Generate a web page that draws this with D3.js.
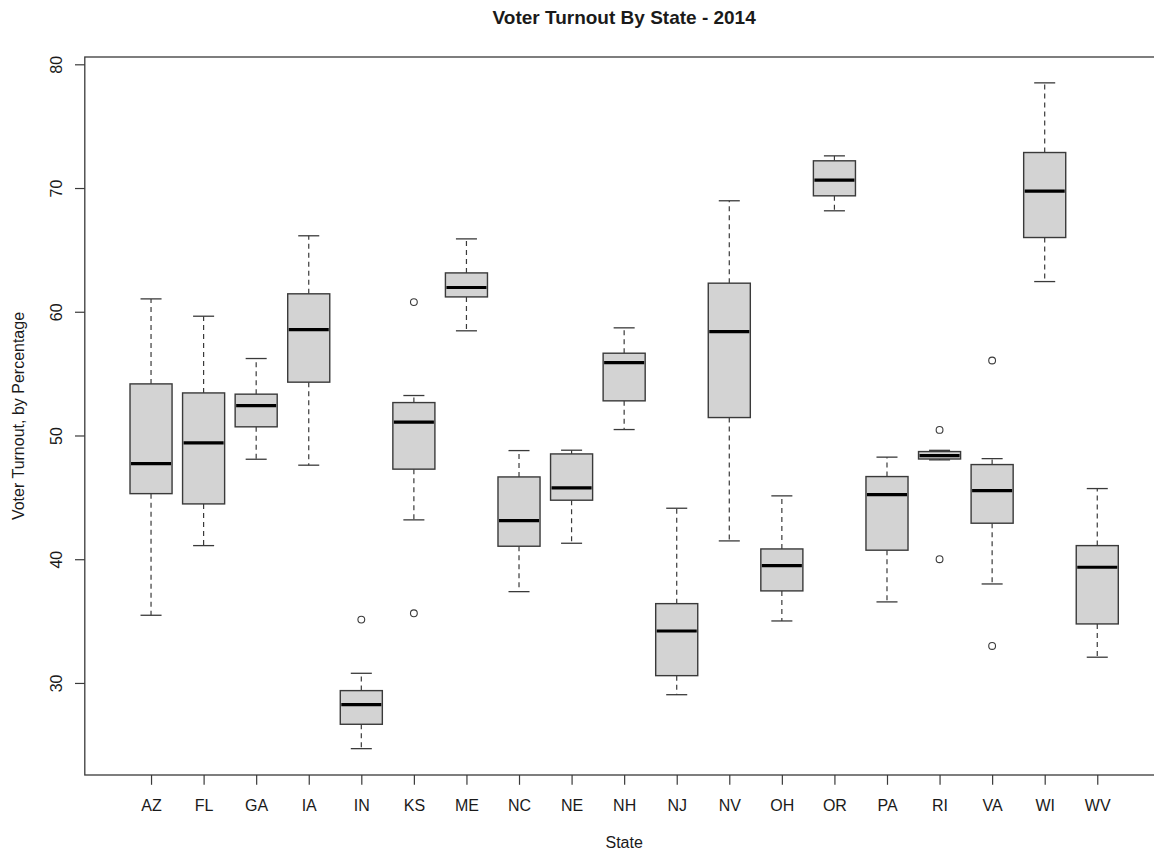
<!DOCTYPE html>
<html>
<head>
<meta charset="utf-8">
<script src="https://cdn.jsdelivr.net/npm/d3@7"></script>
<style>
  body { margin: 0; background: #fff; }
  svg text { font-family: "Liberation Sans", Arial, Helvetica, sans-serif; fill: #1a1a1a; }
</style>
</head>
<body>
<figure id="boxplot" style="margin:0"></figure>
<script>
// five-number summaries per state
const states      = ["AZ", "FL", "GA", "IA", "IN", "KS", "ME", "NC", "NE", "NH", "NJ", "NV", "OH", "OR", "PA", "RI", "VA", "WI", "WV"];
const lowWhisker  = [35.47, 41.10, 48.08, 47.60, 24.69, 43.18, 58.46, 37.38, 41.29, 50.48, 29.05, 41.48, 35.01, 68.16, 36.55, 48.03, 38.00, 62.44, 32.08];
const q1          = [45.30, 44.47, 50.70, 54.31, 26.66, 47.28, 61.20, 41.05, 44.77, 52.80, 30.59, 51.45, 37.44, 69.37, 40.73, 48.10, 42.91, 66.00, 34.77];
const median      = [47.73, 49.40, 52.42, 58.56, 28.25, 51.08, 61.96, 43.12, 45.76, 55.89, 34.20, 58.40, 39.48, 70.64, 45.22, 48.38, 45.55, 69.75, 39.35];
const q3          = [54.17, 53.44, 53.34, 61.45, 29.38, 52.66, 63.14, 46.65, 48.51, 56.65, 36.41, 62.31, 40.83, 72.20, 46.68, 48.70, 47.65, 72.87, 41.10];
const highWhisker = [61.04, 59.64, 56.22, 66.14, 30.78, 53.23, 65.89, 48.78, 48.81, 58.70, 44.12, 68.97, 45.12, 72.60, 48.25, 48.80, 48.13, 78.50, 45.71];
const outliers    = [[], [], [], [], [35.12], [60.78, 35.63], [], [], [], [], [], [], [], [], [], [50.45, 40.00], [56.06, 32.99], [], []];
const yTicks = [30, 40, 50, 60, 70, 80];

const width = 1154, height = 852;
const plot = { left: 84.8, right: 1163.5, top: 57, bottom: 775 };
const n = states.length;

const svg = d3.select("figure#boxplot")
  .append("svg")
  .attr("width", width)
  .attr("height", height);

svg.append("rect").attr("width", width).attr("height", height).attr("fill", "#fff");

// R style: boxes at 1..n, xlim (0.5, n+0.5) padded by 4%
const pad = 0.04 * n;
const x = d3.scaleLinear()
  .domain([0.5 - pad, n + 0.5 + pad])
  .range([plot.left, plot.right]);

const y = d3.scaleLinear()
  .domain([22.56, 80.59])
  .range([plot.bottom, plot.top]);

const step = x(2) - x(1);
const boxW = step * 0.8;
const capW = boxW * 0.5;

const data = states.map((s, i) => ({
  state: s, pos: i + 1,
  lo: lowWhisker[i], q1: q1[i], med: median[i], q3: q3[i], hi: highWhisker[i],
  out: outliers[i]
}));

// whiskers
const g = svg.append("g");
const boxes = g.selectAll("g.box").data(data).join("g").attr("class", "box");

boxes.append("line")
  .attr("x1", d => x(d.pos)).attr("x2", d => x(d.pos))
  .attr("y1", d => y(d.q3)).attr("y2", d => y(d.hi))
  .attr("stroke", "#3a3a3a").attr("stroke-width", 1.2).attr("stroke-dasharray", "5,4");
boxes.append("line")
  .attr("x1", d => x(d.pos)).attr("x2", d => x(d.pos))
  .attr("y1", d => y(d.q1)).attr("y2", d => y(d.lo))
  .attr("stroke", "#3a3a3a").attr("stroke-width", 1.2).attr("stroke-dasharray", "5,4");

// staples
boxes.append("line")
  .attr("x1", d => x(d.pos) - capW / 2).attr("x2", d => x(d.pos) + capW / 2)
  .attr("y1", d => y(d.hi)).attr("y2", d => y(d.hi))
  .attr("stroke", "#3a3a3a").attr("stroke-width", 1.3);
boxes.append("line")
  .attr("x1", d => x(d.pos) - capW / 2).attr("x2", d => x(d.pos) + capW / 2)
  .attr("y1", d => y(d.lo)).attr("y2", d => y(d.lo))
  .attr("stroke", "#3a3a3a").attr("stroke-width", 1.3);

// box
boxes.append("rect")
  .attr("x", d => x(d.pos) - boxW / 2)
  .attr("y", d => y(d.q3))
  .attr("width", boxW)
  .attr("height", d => y(d.q1) - y(d.q3))
  .attr("fill", "#d3d3d3")
  .attr("stroke", "#3a3a3a")
  .attr("stroke-width", 1.4);

// median
boxes.append("line")
  .attr("x1", d => x(d.pos) - boxW / 2 + 1).attr("x2", d => x(d.pos) + boxW / 2 - 1)
  .attr("y1", d => y(d.med)).attr("y2", d => y(d.med))
  .attr("stroke", "#000").attr("stroke-width", 3.2);

// outliers
boxes.selectAll("circle")
  .data(d => d.out.map(v => ({ pos: d.pos, v })))
  .join("circle")
  .attr("cx", d => x(d.pos))
  .attr("cy", d => y(d.v))
  .attr("r", 3.4)
  .attr("fill", "none")
  .attr("stroke", "#3a3a3a")
  .attr("stroke-width", 1.1);

// frame
svg.append("rect")
  .attr("x", plot.left).attr("y", plot.top)
  .attr("width", plot.right - plot.left)
  .attr("height", plot.bottom - plot.top)
  .attr("fill", "none")
  .attr("stroke", "#3a3a3a")
  .attr("stroke-width", 1.3);

// y axis
const yAxis = svg.append("g")
  .attr("transform", "translate(" + plot.left + ",0)")
  .call(d3.axisLeft(y).tickValues(yTicks).tickSize(9.8).tickPadding(0));
yAxis.select(".domain").remove();
yAxis.selectAll(".tick line").attr("stroke", "#3a3a3a").attr("stroke-width", 1.2);
yAxis.selectAll(".tick text")
  .attr("x", null).attr("dy", null)
  .attr("text-anchor", "middle")
  .attr("transform", "translate(-22.8,0) rotate(-90)")
  .style("font-size", "16px")
  .style("font-family", "\"Liberation Sans\", Arial, sans-serif")
  .attr("fill", "#1a1a1a");

// x axis
const xAxis = svg.append("g")
  .attr("transform", "translate(0," + plot.bottom + ")")
  .call(d3.axisBottom(x)
    .tickValues(d3.range(1, n + 1))
    .tickFormat(i => states[i - 1])
    .tickSize(9.8)
    .tickPadding(0));
xAxis.select(".domain").remove();
xAxis.selectAll(".tick line").attr("stroke", "#3a3a3a").attr("stroke-width", 1.2);
xAxis.selectAll(".tick text")
  .attr("y", 35.7).attr("dy", null)
  .style("font-size", "16px")
  .style("font-family", "\"Liberation Sans\", Arial, sans-serif")
  .attr("fill", "#1a1a1a");

// titles
svg.append("text")
  .attr("x", (plot.left + plot.right) / 2)
  .attr("y", 24)
  .attr("text-anchor", "middle")
  .style("font-size", "19px")
  .style("font-weight", "bold")
  .text("Voter Turnout By State - 2014");

svg.append("text")
  .attr("x", (plot.left + plot.right) / 2)
  .attr("y", 848)
  .attr("text-anchor", "middle")
  .style("font-size", "16px")
  .text("State");

svg.append("text")
  .attr("transform", "translate(23.5," + (plot.top + plot.bottom) / 2 + ") rotate(-90)")
  .attr("text-anchor", "middle")
  .style("font-size", "16px")
  .text("Voter Turnout, by Percentage");
</script>
</body>
</html>
